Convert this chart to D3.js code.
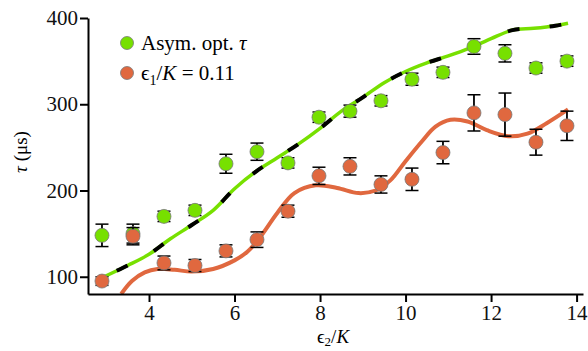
<!DOCTYPE html>
<html>
<head>
<meta charset="utf-8">
<script src="https://cdn.jsdelivr.net/npm/d3@7"></script>
<style>
  body { margin: 0; background: #fff; }
  svg text { font-family: "Liberation Serif", "Times New Roman", "DejaVu Serif", serif !important; }
</style>
</head>
<body>
<script>
// measured points (x = eps2/K)
let xVals = [2.9, 3.625, 4.35, 5.075, 5.8, 6.525, 7.25, 7.975, 8.7, 9.425, 10.15, 10.875, 11.6, 12.325, 13.05, 13.775];
let asymTau = [148, 150, 170, 177, 231, 245, 232, 285, 292, 304, 329, 337, 367, 359, 342, 350];
let asymErr = [13, 11, 6, 6, 11, 10, 6, 6, 7, 6, 7, 6, 9, 10, 6, 6];
let epsTau = [95, 147, 116, 113, 130, 143, 176, 217, 228, 207, 213, 244, 290, 288, 256, 275];
let epsErr = [5, 10, 8, 7, 7, 9, 7, 10, 10, 10, 13, 13, 21, 25, 15, 17];

// theory curves
let asymCurveX = [2.95, 3.5, 4.0, 4.5, 5.0, 5.5, 6.0, 6.5, 7.0, 7.5, 8.0, 8.5, 9.0, 9.5, 10.0, 10.5, 11.0, 11.5, 12.0, 12.5, 13.0, 13.5, 13.8];
let asymCurveY = [100, 113, 126, 144, 160, 177, 202, 222, 238, 254, 272, 292, 308, 325, 338, 348, 356, 365, 376, 386, 388, 391, 394];
let epsCurveX = [3.35, 3.6, 3.9, 4.2, 4.6, 5.0, 5.5, 6.0, 6.3, 6.6, 7.0, 7.4, 7.9, 8.4, 8.9, 9.3, 9.65, 10.0, 10.4, 10.7, 11.05, 11.45, 11.9, 12.4, 12.85, 13.3, 13.8];
let epsCurveY = [80, 95, 105, 109, 108, 106, 109, 119, 129, 146, 174, 197, 206, 203, 197, 200, 212, 234, 258, 274, 282, 280, 270, 263, 266, 278, 294];

let xTicks = [4, 6, 8, 10, 12, 14];
let yTicks = [100, 200, 300, 400];

let width = 588, height = 351;
let green = '#77e000', orange = '#e0683f';

let x = d3.scaleLinear().domain([2.573, 14.15]).range([88, 583]);
let y = d3.scaleLinear().domain([80, 400]).range([294, 18]);

let svg = d3.select('body').append('svg')
            .attr('width', width)
            .attr('height', height);

svg.append('clipPath').attr('id', 'plot')
  .append('rect').attr('x', 88).attr('y', 0).attr('width', 500).attr('height', 294);

let line = d3.line()
             .x((d) => { return x(d[0]); })
             .y((d) => { return y(d[1]); })
             .curve(d3.curveCatmullRom);

let plot = svg.append('g').attr('clip-path', 'url(#plot)');

// asym curve: green solid with black dashes on top
let asymPts = asymCurveX.map((v, i) => [v, asymCurveY[i]]);
plot.append('path').attr('d', line(asymPts))
  .attr('fill', 'none').attr('stroke', green).attr('stroke-width', 3.5);
plot.append('path').attr('d', line(asymPts))
  .attr('fill', 'none').attr('stroke', '#000').attr('stroke-width', 4)
  .attr('stroke-dasharray', '12,30').attr('stroke-dashoffset', -14);

let epsPts = epsCurveX.map((v, i) => [v, epsCurveY[i]]);
plot.append('path').attr('d', line(epsPts))
  .attr('fill', 'none').attr('stroke', orange).attr('stroke-width', 4);

function drawSeries(vals, errs, color) {
  let g = svg.append('g');
  let data = xVals.map((v, i) => ({ x: v, y: vals[i], e: errs[i] }));
  let bars = g.selectAll('g.err').data(data).enter().append('g').attr('class', 'err');
  bars.append('line')
    .attr('x1', (d) => x(d.x)).attr('x2', (d) => x(d.x))
    .attr('y1', (d) => y(d.y - d.e)).attr('y2', (d) => y(d.y + d.e))
    .attr('stroke', '#000').attr('stroke-width', 1.8);
  [-1, 1].forEach((s) => {
    bars.append('line')
      .attr('x1', (d) => x(d.x) - 6.5).attr('x2', (d) => x(d.x) + 6.5)
      .attr('y1', (d) => y(d.y + s * d.e)).attr('y2', (d) => y(d.y + s * d.e))
      .attr('stroke', '#000').attr('stroke-width', 1.5);
  });
  g.selectAll('circle').data(data).enter().append('circle')
    .attr('cx', (d) => x(d.x)).attr('cy', (d) => y(d.y))
    .attr('r', 7)
    .attr('fill', color)
    .attr('stroke', '#777').attr('stroke-width', 0.8);
}
drawSeries(asymTau, asymErr, green);
drawSeries(epsTau, epsErr, orange);

// axes
let xAxis = d3.axisBottom(x).tickValues(xTicks).tickSize(8).tickPadding(3).tickSizeOuter(0);
let yAxis = d3.axisLeft(y).tickValues(yTicks).tickSize(8).tickPadding(2).tickSizeOuter(0);

let gx = svg.append('g').attr('transform', 'translate(0,294)').call(xAxis);
let gy = svg.append('g').attr('transform', 'translate(88,0)').call(yAxis);
[gx, gy].forEach((g) => {
  g.attr('font-size', 21);
  g.select('.domain').attr('stroke', '#000').attr('stroke-width', 2);
  g.selectAll('.tick line').attr('stroke', '#000').attr('stroke-width', 2);
  g.selectAll('.tick text').attr('fill', '#111');
});

// axis labels
let xl = svg.append('text').attr('x', 333).attr('y', 343)
  .attr('text-anchor', 'middle').attr('font-size', 19);
xl.append('tspan').text('ϵ');
xl.append('tspan').text('2').attr('dy', 3).attr('font-size', 13);
xl.append('tspan').text('/').attr('dy', -3);
xl.append('tspan').text('K').attr('font-style', 'italic');

let yl = svg.append('text').attr('transform', 'translate(27,152) rotate(-90)')
  .attr('text-anchor', 'middle').attr('font-size', 19);
yl.append('tspan').text('τ').attr('font-style', 'italic');
yl.append('tspan').text(' (μs)');

// legend
let legend = svg.append('g');
legend.append('circle').attr('cx', 127).attr('cy', 43).attr('r', 6.5)
  .attr('fill', green).attr('stroke', '#777').attr('stroke-width', 0.8);
let l1 = legend.append('text').attr('x', 141).attr('y', 50).attr('font-size', 21);
l1.append('tspan').text('Asym. opt. ');
l1.append('tspan').text('τ').attr('font-style', 'italic');

legend.append('circle').attr('cx', 127).attr('cy', 73).attr('r', 6.5)
  .attr('fill', orange).attr('stroke', '#777').attr('stroke-width', 0.8);
let l2 = legend.append('text').attr('x', 141).attr('y', 80).attr('font-size', 21);
l2.append('tspan').text('ϵ');
l2.append('tspan').text('1').attr('dy', 5).attr('font-size', 14);
l2.append('tspan').text('/').attr('dy', -5);
l2.append('tspan').text('K').attr('font-style', 'italic');
l2.append('tspan').text(' = 0.11');
</script>
</body>
</html>
